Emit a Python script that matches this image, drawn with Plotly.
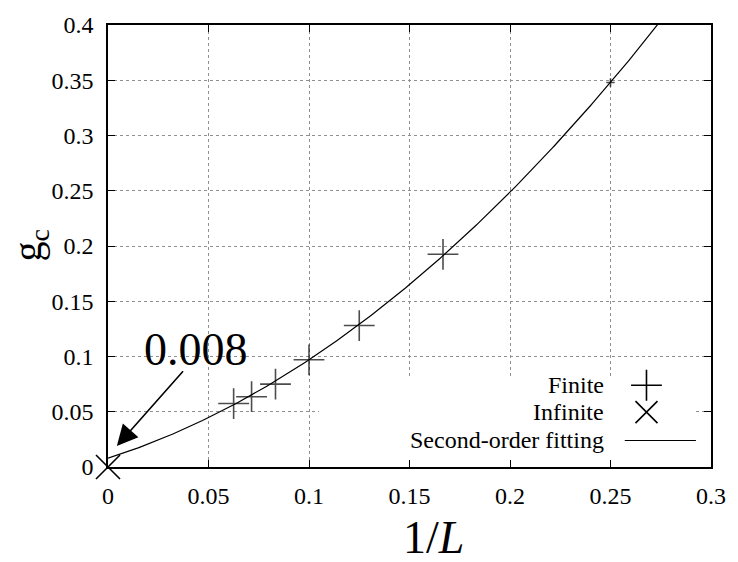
import numpy as np
import plotly.graph_objects as go

# Data
L_finite = [16, 14, 12, 10, 8, 6, 4]
inv_L = [1 / l for l in L_finite]
gc_finite = [0.0574, 0.0636, 0.0750, 0.0970, 0.1280, 0.1925, 0.3480]
inv_L_inf = [0.0]
gc_inf = [0.0]
# second-order fit coefficients: gc = c0 + c1*x + c2*x^2
fit_coef = [0.008, 0.577, 3.133]
fit_x = np.linspace(0, 0.3, 301)
fit_y = fit_coef[0] + fit_coef[1] * fit_x + fit_coef[2] * fit_x ** 2

x_ticks = [0, 0.05, 0.1, 0.15, 0.2, 0.25, 0.3]
x_ticklabels = ["0", "0.05", "0.1", "0.15", "0.2", "0.25", "0.3"]
y_ticks = [0, 0.05, 0.1, 0.15, 0.2, 0.25, 0.3, 0.35, 0.4]
y_ticklabels = ["0", "0.05", "0.1", "0.15", "0.2", "0.25", "0.3", "0.35", "0.4"]

FONT = "Liberation Serif"
marker_sizes = [22, 22, 22, 22, 22, 22, 6]

fig = go.Figure()
fig.add_trace(go.Scatter(x=fit_x, y=fit_y, mode="lines",
                         line=dict(color="black", width=1.2), showlegend=False))
fig.add_trace(go.Scatter(x=inv_L, y=gc_finite, mode="markers",
                         marker=dict(symbol="cross-thin-open", size=marker_sizes, color="black",
                                     line=dict(color="black", width=1.6)),
                         showlegend=False))
fig.add_trace(go.Scatter(x=inv_L_inf, y=gc_inf, mode="markers", cliponaxis=False,
                         marker=dict(symbol="x-thin-open", size=24, color="black",
                                     line=dict(color="black", width=1.6)),
                         showlegend=False))

# custom legend (symbol to the right of text) on an overlay axis in [0,1]
fig.add_trace(go.Scatter(x=[0.893], y=[0.185], mode="markers", xaxis="x2", yaxis="y2",
                         marker=dict(symbol="cross-thin-open", size=22, color="black",
                                     line=dict(color="black", width=1.6)),
                         showlegend=False, hoverinfo="skip"))
fig.add_trace(go.Scatter(x=[0.893], y=[0.124], mode="markers", xaxis="x2", yaxis="y2",
                         marker=dict(symbol="x-thin-open", size=22, color="black",
                                     line=dict(color="black", width=1.6)),
                         showlegend=False, hoverinfo="skip"))
fig.add_trace(go.Scatter(x=[0.857, 0.975], y=[0.060, 0.060], mode="lines", xaxis="x2", yaxis="y2",
                         line=dict(color="black", width=1.2),
                         showlegend=False, hoverinfo="skip"))

legend_texts = [("Finite", 0.185), ("Infinite", 0.124), ("Second-order fitting", 0.060)]
annotations = []
for t, v in legend_texts:
    annotations.append(dict(x=0.826, y=v, xref="x2", yref="y2", text=t, showarrow=False,
                            xanchor="right", yanchor="middle",
                            font=dict(family=FONT, size=24, color="black")))

# arrow and label
annotations.append(dict(x=0.0044, y=0.019, xref="x", yref="y", ax=0.038, ay=0.088,
                        axref="x", ayref="y", text="", showarrow=True,
                        arrowhead=2, arrowsize=2.6, arrowwidth=1.6, arrowcolor="black"))
annotations.append(dict(x=0.044, y=0.106, xref="x", yref="y", text="0.008", showarrow=False,
                        xanchor="center", yanchor="middle",
                        font=dict(family=FONT, size=46, color="black")))
# axis titles
annotations.append(dict(x=0.54, y=-0.159, xref="paper", yref="paper",
                        text="1/<i>L</i>", showarrow=False, xanchor="center", yanchor="middle",
                        font=dict(family=FONT, size=46, color="black")))
annotations.append(dict(x=-0.13, y=0.5, xref="paper", yref="paper",
                        text="g<sub>c</sub>", showarrow=False, textangle=-90,
                        xanchor="center", yanchor="middle",
                        font=dict(family=FONT, size=40, color="black")))

tick_font = dict(family=FONT, size=24, color="black")

fig.update_layout(
    width=738, height=562,
    margin=dict(l=108, r=21, t=14, b=95),
    paper_bgcolor="white", plot_bgcolor="white",
    font=dict(family=FONT, size=24, color="black"),
    showlegend=False,
)
fig.update_xaxes(range=[0, 0.3], tickmode="array", tickvals=x_ticks, ticktext=x_ticklabels,
                 ticklabelstandoff=6)
fig.update_yaxes(range=[0, 0.4], tickmode="array", tickvals=y_ticks, ticktext=y_ticklabels,
                 ticklabelstandoff=8)
for upd in (fig.update_xaxes, fig.update_yaxes):
    upd(showline=True, linecolor="black", linewidth=1.5, mirror="allticks",
        ticks="inside", ticklen=7, tickwidth=1, tickcolor="black",
        showgrid=True, gridcolor="#909090", griddash="dot", gridwidth=1,
        zeroline=False, tickfont=tick_font)

fig.update_layout(
    xaxis2=dict(range=[0, 1], overlaying="x", visible=False),
    yaxis2=dict(range=[0, 1], overlaying="y", visible=False),
    shapes=[dict(type="rect", xref="x", yref="y", x0=0.105, x1=0.2925, y0=0.005, y1=0.080,
                 fillcolor="white", line=dict(width=0), layer="between")],
    annotations=annotations,
)

fig.write_html("out.html")
